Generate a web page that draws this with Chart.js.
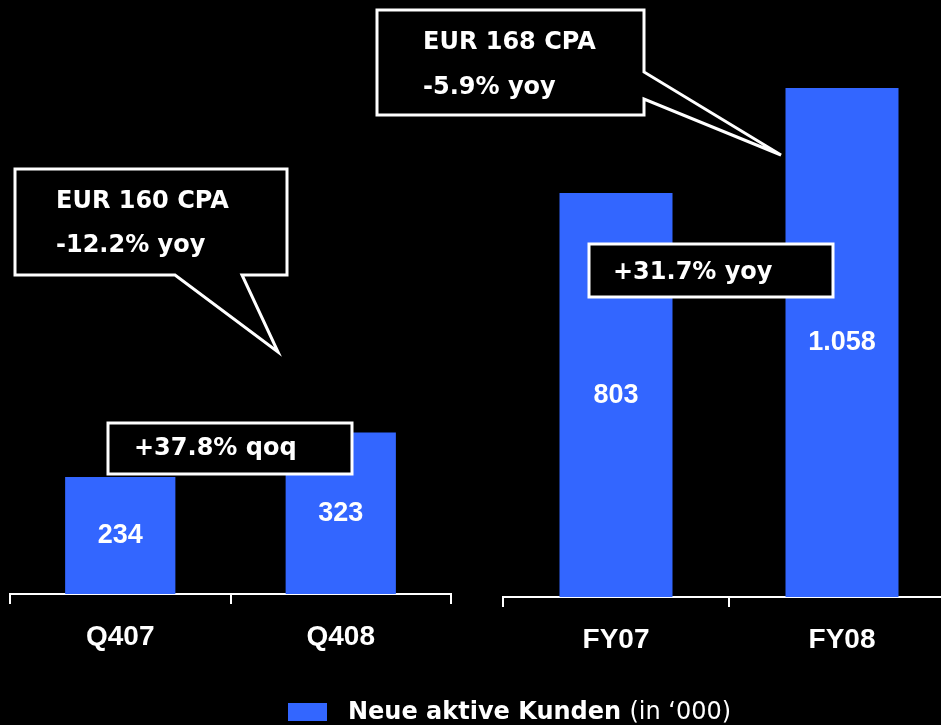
<!DOCTYPE html>
<html>
<head>
<meta charset="utf-8">
<script src="https://cdn.jsdelivr.net/npm/chart.js@4/dist/chart.umd.min.js"></script>
<style>
  html, body { margin: 0; padding: 0; background: #000; overflow: hidden; width: 941px; height: 725px; }
  canvas { position: absolute; left: 0; top: 0; }
</style>
</head>
<body>
<canvas id="left" width="941" height="725"></canvas>
<canvas id="right" width="960" height="725"></canvas>
<script>
// ---- data ----
const quarterLabels = ['Q407', 'Q408'];
const quarterValues = [234, 323];
const yearLabels = ['FY07', 'FY08'];
const yearValues = [803, 1058];
const seriesName = 'Neue aktive Kunden';
const seriesUnit = '(in \u2018000)';
const calloutQuarter = ['EUR 160 CPA', '-12.2% yoy'];
const calloutYear = ['EUR 168 CPA', '-5.9% yoy'];
const changeQuarter = '+37.8% qoq';
const changeYear = '+31.7% yoy';

const BLUE = '#3366FF';
const BAR_FONT = 'Liberation Sans, Arial, sans-serif';
const BOX_FONT = 'DejaVu Sans, Verdana, sans-serif';

const valueLabels = {
  id: 'valueLabels',
  afterDatasetsDraw(chart) {
    const ctx = chart.ctx;
    const meta = chart.getDatasetMeta(0);
    ctx.save();
    ctx.fillStyle = '#fff';
    ctx.font = 'bold 27px ' + BAR_FONT;
    ctx.textAlign = 'center';
    ctx.textBaseline = 'middle';
    meta.data.forEach((bar, i) => {
      const v = chart.data.datasets[0].data[i];
      const y = (bar.y + bar.base) / 2;
      ctx.fillText(v.toLocaleString('de-DE'), bar.x, y);
    });
    ctx.restore();
  }
};

function xAxis(height) {
  return {
    type: 'category',
    offset: true,
    border: { display: true, color: '#fff', width: 2 },
    grid: { display: true, drawOnChartArea: false, drawTicks: true, color: '#fff', lineWidth: 2, tickLength: 10, offset: true },
    ticks: { color: '#fff', padding: 16, font: { family: BAR_FONT, size: 28, weight: 'bold' } },
    afterFit(axis) { axis.height = height; }
  };
}

function yAxis(min, max) {
  return { display: false, min: min, max: max };
}

function boxPath(ctx, pts) {
  ctx.beginPath();
  ctx.moveTo(pts[0][0], pts[0][1]);
  for (let i = 1; i < pts.length; i++) ctx.lineTo(pts[i][0], pts[i][1]);
  ctx.closePath();
  ctx.fillStyle = '#000';
  ctx.fill();
  ctx.strokeStyle = '#fff';
  ctx.lineWidth = 3;
  ctx.lineJoin = 'miter';
  ctx.stroke();
}

const overlay = {
  id: 'overlay',
  afterDraw(chart) {
    const ctx = chart.ctx;
    ctx.save();
    // left speech bubble
    boxPath(ctx, [[15,169],[287,169],[287,275],[242,275],[278,352],[175,275],[15,275]]);
    // right speech bubble
    boxPath(ctx, [[377,10],[644,10],[644,72],[781,155],[644,99],[644,115],[377,115]]);
    // change boxes
    boxPath(ctx, [[108,423],[352,423],[352,474],[108,474]]);
    boxPath(ctx, [[589,244],[833,244],[833,297],[589,297]]);

    ctx.fillStyle = '#fff';
    ctx.font = 'bold 24px ' + BOX_FONT;
    ctx.textAlign = 'left';
    ctx.textBaseline = 'middle';
    ctx.fillText(calloutQuarter[0], 56, 202);
    ctx.fillText(calloutQuarter[1], 56, 246);
    ctx.fillText(calloutYear[0], 423, 43);
    ctx.fillText(calloutYear[1], 423, 88);
    ctx.fillText(changeQuarter, 134, 449);
    ctx.fillText(changeYear, 613, 273);

    // legend
    ctx.fillStyle = BLUE;
    ctx.fillRect(288, 703, 39, 18);
    ctx.fillStyle = '#fff';
    ctx.font = 'bold 24px ' + BOX_FONT;
    ctx.fillText(seriesName, 348, 713);
    const w = ctx.measureText(seriesName + ' ').width;
    ctx.font = '24px ' + BOX_FONT;
    ctx.fillText(seriesUnit, 348 + w, 713);
    ctx.restore();
  }
};

const common = {
  responsive: false,
  animation: false,
  devicePixelRatio: 1,
  plugins: { legend: { display: false }, tooltip: { enabled: false } }
};

new Chart(document.getElementById('left'), {
  type: 'bar',
  data: {
    labels: quarterLabels,
    datasets: [{ label: seriesName, data: quarterValues, backgroundColor: BLUE, borderWidth: 0, barPercentage: 0.5, categoryPercentage: 1 }]
  },
  options: Object.assign({}, common, {
    layout: { padding: { left: 10, right: 490, top: 0, bottom: 0 } },
    scales: { x: xAxis(131), y: yAxis(0, 1188) }
  }),
  plugins: [valueLabels]
});

// the right panel's value axis in the original does not start at zero
const yearAxisMin = -178;
new Chart(document.getElementById('right'), {
  type: 'bar',
  data: {
    labels: yearLabels,
    datasets: [{ label: seriesName, data: yearValues, base: yearAxisMin, backgroundColor: BLUE, borderWidth: 0, barPercentage: 0.5, categoryPercentage: 1 }]
  },
  options: Object.assign({}, common, {
    layout: { padding: { left: 503, right: 5, top: 0, bottom: 0 } },
    scales: { x: xAxis(128), y: yAxis(yearAxisMin, 1272) }
  }),
  plugins: [valueLabels, overlay]
});
</script>
</body>
</html>
